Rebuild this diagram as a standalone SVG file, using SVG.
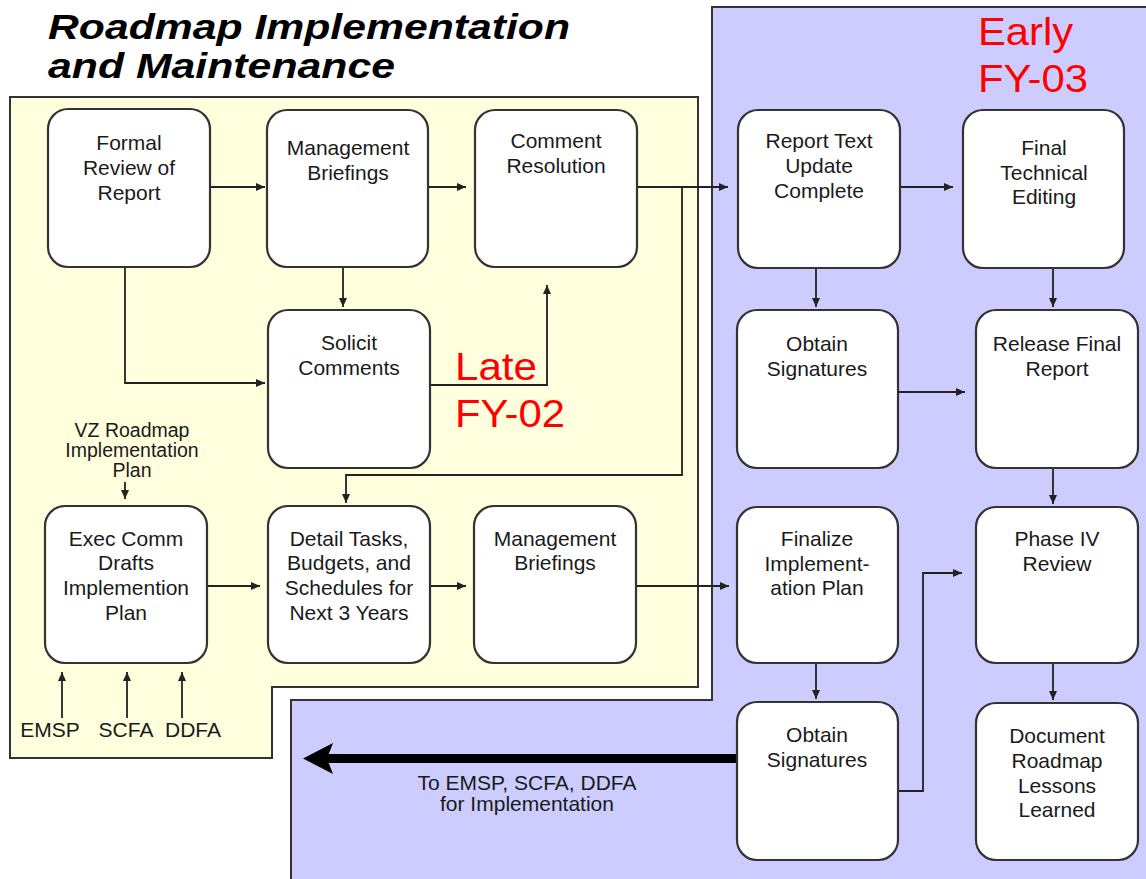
<svg xmlns="http://www.w3.org/2000/svg" width="1146" height="879" viewBox="0 0 1146 879">
  <defs>
    <marker id="arr" markerUnits="userSpaceOnUse" markerWidth="10" markerHeight="10" refX="9" refY="4" orient="auto">
      <path d="M0,0 L9,4 L0,8 z" fill="#222"/>
    </marker>
    <style>
      .zone { stroke: #333; stroke-width: 2; }
      .node rect { fill: #fff; stroke: #333; stroke-width: 2.2; }
      .lbl { font-family: "Liberation Sans", Arial, sans-serif; font-size: 21px; fill: #1a1a1a; text-anchor: middle; }
      .small { font-size: 19.5px; }
      .title { font-family: "Liberation Sans", Arial, sans-serif; font-size: 35px; font-weight: bold; font-style: italic; fill: #000; }
      .phase { font-family: "Liberation Sans", Arial, sans-serif; font-size: 38px; fill: #ff0000; }
      .conn path { fill: none; stroke: #222; stroke-width: 1.8; }
    </style>
  </defs>

  <rect width="1146" height="879" fill="#fff"/>

  <!-- Phase areas -->
  <polygon class="zone" points="712,7 1152,7 1152,885 291,885 291,700 712,700" fill="#ccccff"/>
  <polygon class="zone" points="10,97 698,97 698,687 272,687 272,758 10,758" fill="#ffffdd"/>

  <!-- Title -->
  <text class="title" x="48" y="39" textLength="522" lengthAdjust="spacingAndGlyphs">Roadmap Implementation</text>
  <text class="title" x="48" y="78" textLength="347" lengthAdjust="spacingAndGlyphs">and Maintenance</text>

  <!-- Phase labels -->
  <text class="phase" x="978" y="45" textLength="95" lengthAdjust="spacingAndGlyphs">Early</text>
  <text class="phase" x="978" y="92" textLength="110" lengthAdjust="spacingAndGlyphs">FY-03</text>
  <text class="phase" x="455" y="380" textLength="82" lengthAdjust="spacingAndGlyphs">Late</text>
  <text class="phase" x="455" y="427" textLength="110" lengthAdjust="spacingAndGlyphs">FY-02</text>

  <!-- Connectors -->
  <g id="connectors" class="conn">
    <path d="M210,187 H265" marker-end="url(#arr)"/>
    <path d="M125,267 V383 H265" marker-end="url(#arr)"/>
    <path d="M428,187 H466" marker-end="url(#arr)"/>
    <path d="M343,267 V307" marker-end="url(#arr)"/>
    <path d="M430,385 H547 V285" marker-end="url(#arr)"/>
    <path d="M637,187 H728" marker-end="url(#arr)"/>
    <path d="M682,187 V475 H346 V503" marker-end="url(#arr)"/>
    <path d="M900,187 H953" marker-end="url(#arr)"/>
    <path d="M816,268 V307" marker-end="url(#arr)"/>
    <path d="M1053,268 V307" marker-end="url(#arr)"/>
    <path d="M898,392 H965" marker-end="url(#arr)"/>
    <path d="M1053,468 V504" marker-end="url(#arr)"/>
    <path d="M636,586 H729" marker-end="url(#arr)"/>
    <path d="M816,663 V699" marker-end="url(#arr)"/>
    <path d="M1053,663 V700" marker-end="url(#arr)"/>
    <path d="M898,791 H923 V573 H962" marker-end="url(#arr)"/>
    <path d="M430,586 H466" marker-end="url(#arr)"/>
    <path d="M207,586 H260" marker-end="url(#arr)"/>
    <path d="M125,482 V499" marker-end="url(#arr)"/>
    <path d="M62,718 V672" marker-end="url(#arr)"/>
    <path d="M127,718 V672" marker-end="url(#arr)"/>
    <path d="M182,718 V672" marker-end="url(#arr)"/>
    <!-- hand-off arrow -->
    <path d="M326,758.5 H737" style="stroke:#000;stroke-width:9"/>
    <polygon points="303,758.5 333,743 327,758.5 333,774" fill="#000"/>
  </g>

  <!-- Free labels -->
  <text class="lbl small"><tspan x="132" y="437">VZ Roadmap</tspan><tspan x="132" y="457">Implementation</tspan><tspan x="132" y="477">Plan</tspan></text>
  <text class="lbl" x="50" y="737">EMSP</text>
  <text class="lbl" x="126" y="737">SCFA</text>
  <text class="lbl" x="193" y="737">DDFA</text>
  <text class="lbl"><tspan x="527" y="790">To EMSP, SCFA, DDFA</tspan><tspan x="527" y="811">for Implementation</tspan></text>

  <!-- Nodes -->
  <g id="formal-review" class="node">
    <rect x="48" y="109" width="162" height="158" rx="20"/>
    <text class="lbl"><tspan x="129" y="150">Formal</tspan><tspan x="129" y="175">Review of</tspan><tspan x="129" y="200">Report</tspan></text>
  </g>
  <g id="mgmt-briefings-1" class="node">
    <rect x="267" y="110" width="161" height="157" rx="20"/>
    <text class="lbl"><tspan x="348" y="155">Management</tspan><tspan x="348" y="180">Briefings</tspan></text>
  </g>
  <g id="comment-resolution" class="node">
    <rect x="475" y="110" width="162" height="157" rx="20"/>
    <text class="lbl"><tspan x="556" y="148">Comment</tspan><tspan x="556" y="173">Resolution</tspan></text>
  </g>
  <g id="solicit-comments" class="node">
    <rect x="268" y="310" width="162" height="158" rx="20"/>
    <text class="lbl"><tspan x="349" y="350">Solicit</tspan><tspan x="349" y="375">Comments</tspan></text>
  </g>
  <g id="report-text-update" class="node">
    <rect x="738" y="110" width="162" height="158" rx="20"/>
    <text class="lbl"><tspan x="819" y="148">Report Text</tspan><tspan x="819" y="173">Update</tspan><tspan x="819" y="198">Complete</tspan></text>
  </g>
  <g id="final-technical-editing" class="node">
    <rect x="963" y="110" width="161" height="158" rx="20"/>
    <text class="lbl"><tspan x="1044" y="155">Final</tspan><tspan x="1044" y="180">Technical</tspan><tspan x="1044" y="204">Editing</tspan></text>
  </g>
  <g id="obtain-signatures-1" class="node">
    <rect x="737" y="310" width="161" height="158" rx="20"/>
    <text class="lbl"><tspan x="817" y="351">Obtain</tspan><tspan x="817" y="376">Signatures</tspan></text>
  </g>
  <g id="release-final-report" class="node">
    <rect x="976" y="310" width="162" height="158" rx="20"/>
    <text class="lbl"><tspan x="1057" y="351">Release Final</tspan><tspan x="1057" y="376">Report</tspan></text>
  </g>
  <g id="finalize-plan" class="node">
    <rect x="737" y="507" width="161" height="156" rx="20"/>
    <text class="lbl"><tspan x="817" y="546">Finalize</tspan><tspan x="817" y="571">Implement-</tspan><tspan x="817" y="595">ation Plan</tspan></text>
  </g>
  <g id="phase-iv-review" class="node">
    <rect x="976" y="507" width="162" height="156" rx="20"/>
    <text class="lbl"><tspan x="1057" y="546">Phase IV</tspan><tspan x="1057" y="571">Review</tspan></text>
  </g>
  <g id="obtain-signatures-2" class="node">
    <rect x="737" y="702" width="161" height="158" rx="20"/>
    <text class="lbl"><tspan x="817" y="742">Obtain</tspan><tspan x="817" y="767">Signatures</tspan></text>
  </g>
  <g id="document-lessons" class="node">
    <rect x="976" y="703" width="162" height="157" rx="20"/>
    <text class="lbl"><tspan x="1057" y="743">Document</tspan><tspan x="1057" y="768">Roadmap</tspan><tspan x="1057" y="793">Lessons</tspan><tspan x="1057" y="817">Learned</tspan></text>
  </g>
  <g id="exec-comm-drafts" class="node">
    <rect x="45" y="506" width="162" height="157" rx="20"/>
    <text class="lbl"><tspan x="126" y="546">Exec Comm</tspan><tspan x="126" y="570">Drafts</tspan><tspan x="126" y="595">Implemention</tspan><tspan x="126" y="620">Plan</tspan></text>
  </g>
  <g id="detail-tasks" class="node">
    <rect x="268" y="506" width="162" height="157" rx="20"/>
    <text class="lbl"><tspan x="349" y="546">Detail Tasks,</tspan><tspan x="349" y="570">Budgets, and</tspan><tspan x="349" y="595">Schedules for</tspan><tspan x="349" y="620">Next 3 Years</tspan></text>
  </g>
  <g id="mgmt-briefings-2" class="node">
    <rect x="474" y="506" width="162" height="157" rx="20"/>
    <text class="lbl"><tspan x="555" y="546">Management</tspan><tspan x="555" y="570">Briefings</tspan></text>
  </g>
</svg>
